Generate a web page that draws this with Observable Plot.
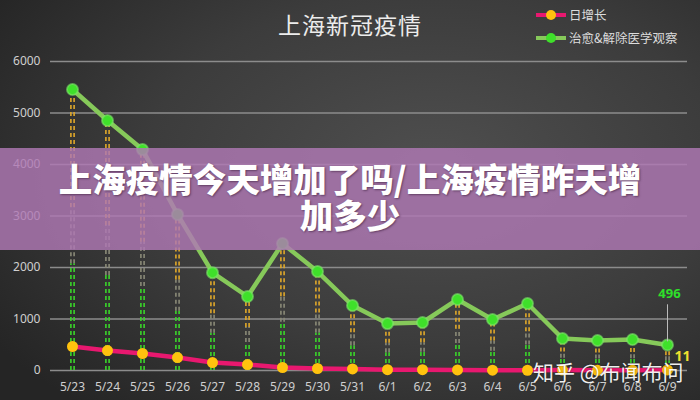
<!DOCTYPE html>
<html><head><meta charset="utf-8">
<script src="https://cdn.jsdelivr.net/npm/d3@7"></script>
<script src="https://cdn.jsdelivr.net/npm/@observablehq/plot@0.6"></script>
<style>
html,body{margin:0;padding:0;}
body{width:700px;height:400px;overflow:hidden;font-family:"Noto Sans CJK SC","Noto Sans",sans-serif;}
#wrap{position:relative;width:700px;height:400px;background:radial-gradient(ellipse 75% 80% at 62% 42%,#4f4f4f 0%,#3c3c3c 55%,#252525 100%);}
#chart{position:absolute;left:0;top:0;}
.abs{position:absolute;}
#title{left:0;width:700px;top:7px;text-align:center;color:#ececec;font-size:23px;letter-spacing:1px;}
.leg{left:536px;font-size:12.5px;color:#dcdcdc;display:flex;align-items:center;}
.leg .sw{position:relative;width:30px;height:4px;margin-right:3px;}
.leg .dot{position:absolute;left:10px;top:-3px;width:10px;height:10px;border-radius:5px;}
#banner{left:0;top:148px;width:700px;height:102px;background:rgba(176,121,181,0.82);}
#btxt{left:0;width:700px;top:160px;text-align:center;color:#fff;font-weight:900;font-size:33.5px;line-height:36px;text-shadow:1px 1px 2px rgba(60,30,60,0.6);}
#wm{left:533px;top:356px;color:#fff;font-size:21px;opacity:0.92;text-shadow:0 0 2px rgba(0,0,0,0.5);}
</style></head>
<body>
<div id="wrap">
<div id="chart"></div>
<div id="title" class="abs">上海新冠疫情</div>
<div class="abs leg" style="top:5px"><div class="sw" style="background:#e8186f"><div class="dot" style="background:#ffc20e"></div></div>日增长</div>
<div class="abs leg" style="top:28px"><div class="sw" style="background:#86c95a"><div class="dot" style="background:#3fe02a"></div></div>治愈&amp;解除医学观察</div>
<div id="banner" class="abs"></div>
<div id="btxt" class="abs">上海疫情今天增加了吗/上海疫情昨天增<br>加多少</div>
<div id="wm" class="abs">知乎 @布闻布问</div>
</div>
<script>
const dates = ["5/23","5/24","5/25","5/26","5/27","5/28","5/29","5/30","5/31","6/1","6/2","6/3","6/4","6/5","6/6","6/7","6/8","6/9"];
const dailyNew = [466,388,330,252,155,116,58,39,31,15,16,10,7,5,8,4,4,11];
const recovered = [5456,4854,4290,3030,1900,1437,2466,1922,1262,912,932,1379,990,1301,621,583,602,496];
const yTicks = [0,1000,2000,3000,4000,5000,6000];

const rows = dates.map((d,i)=>({date:d, n:dailyNew[i], r:recovered[i]}));
const segs = [];
for (const r of rows) {
  segs.push({date:r.date, a:0, b:r.r*0.38, c:"#3ad62a"});
  segs.push({date:r.date, a:r.r*0.38, b:r.r*0.58, c:"#8a8a78"});
  segs.push({date:r.date, a:r.r*0.58, b:r.r, c:"#e0a82a"});
}
const last = rows[rows.length-1];

const dash = (dx)=>Plot.ruleX(segs,{x:"date",y1:"a",y2:"b",stroke:"c",strokeWidth:1.6,strokeDasharray:"4,3",dx});

const chart = Plot.plot({
  width:700, height:400,
  marginLeft:50, marginRight:13, marginTop:61, marginBottom:30,
  style:{background:"transparent", color:"#cfcfcf", fontSize:"12px", fontFamily:"'Noto Sans', 'Noto Sans CJK SC', sans-serif"},
  x:{type:"point", domain:dates, range:[68,670], padding:0, label:null, tickSize:0, tickPadding:12},
  y:{domain:[0,6000], ticks:yTicks, label:null, tickSize:0, tickPadding:10, tickFormat:d=>String(d)},
  marks:[
    Plot.ruleY(yTicks,{stroke:"#8c8c8c",strokeWidth:1.5}),
    dash(-1.6), dash(1.6),
    Plot.line(rows,{x:"date",y:"n",stroke:"#e8186f",strokeWidth:4.5}),
    Plot.line(rows,{x:"date",y:"r",stroke:"#86c95a",strokeWidth:4.5}),
    Plot.dot(rows,{x:"date",y:"r",r:5.5,fill:"#3fe02a",stroke:"#7ee86a",strokeOpacity:0.6,strokeWidth:2}),
    Plot.dot(rows,{x:"date",y:"n",r:5.5,fill:"#ffc20e"}),
    Plot.ruleX([last],{x:"date",y1:d=>d.r+60,y2:d=>d.r+780,stroke:"#bbbbbb",strokeWidth:1}),
    Plot.text([last],{x:"date",y:"r",text:d=>String(d.r),dy:-51,dx:2,fill:"#2fe02a",fontWeight:"bold",fontSize:13}),
    Plot.text([last],{x:"date",y:"n",text:d=>String(d.n),dy:-13,dx:15,fill:"#f0e030",fontWeight:"bold",fontSize:14})
  ]
});
document.getElementById("chart").appendChild(chart);
</script>
</body></html>
